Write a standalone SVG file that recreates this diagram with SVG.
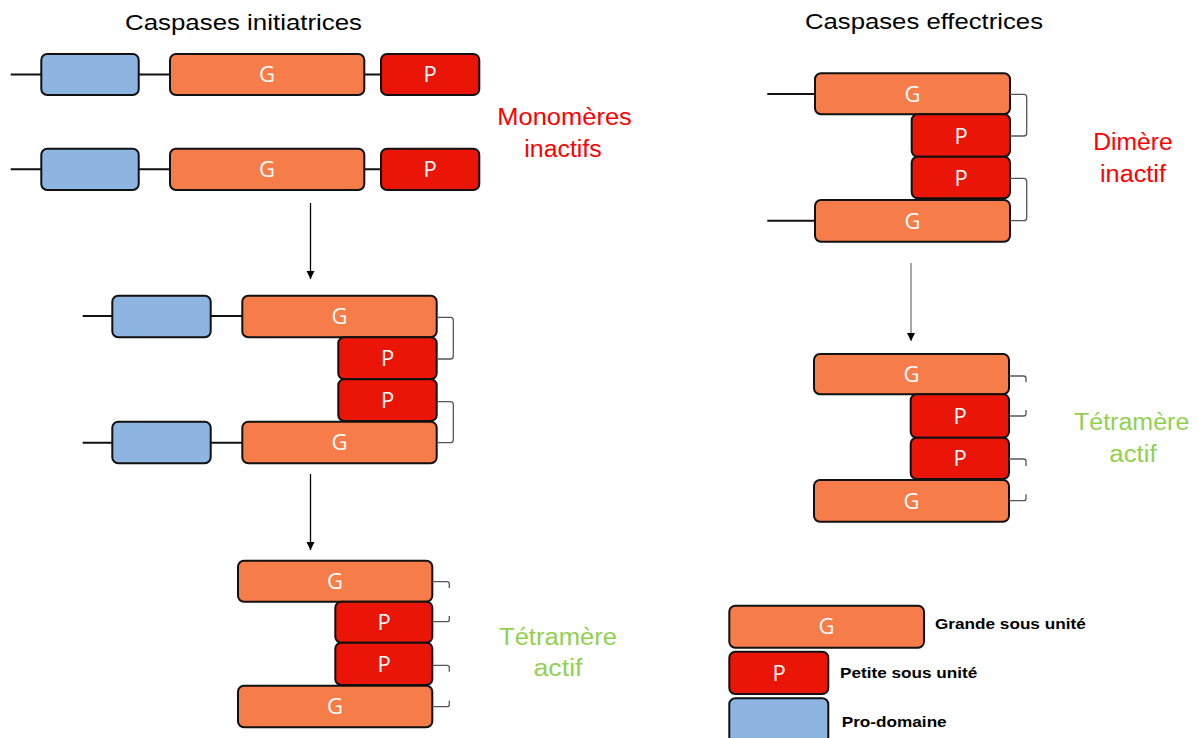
<svg xmlns="http://www.w3.org/2000/svg" width="1199" height="738" viewBox="0 0 1199 738">
<defs>
<marker id="arr" viewBox="0 0 10 10" refX="10" refY="5" markerWidth="8" markerHeight="9" markerUnits="userSpaceOnUse" orient="auto">
<path d="M0,0 L10,5 L0,10 z" fill="#000"/>
</marker>
<style>
.g{fill:#F67C4A;stroke:#111;stroke-width:2}
.p{fill:#EA1506;stroke:#111;stroke-width:2}
.b{fill:#8EB4E2;stroke:#111;stroke-width:2}
.ln{stroke:#111;stroke-width:2;fill:none}
.br{stroke:#555;stroke-width:1.3;fill:none}
.lbl{font-family:"Open Sans","Liberation Sans",sans-serif;font-size:22px;fill:#fff;text-anchor:middle}
.ttl{font-family:"Liberation Sans",Arial,sans-serif;font-size:22px;fill:#000}
.red{font-family:"Liberation Sans",Arial,sans-serif;font-size:23px;fill:#FF0000}
.grn{font-family:"Liberation Sans",Arial,sans-serif;font-size:23px;fill:#92D050}
.leg{font-family:"Liberation Sans",Arial,sans-serif;font-size:15px;font-weight:bold;fill:#000}
.arrow{stroke:#000;stroke-width:1.3;fill:none}
</style>
</defs>
<rect width="1199" height="738" fill="#fff"/>

<g id="titles">
<text class="ttl" x="125" y="30" textLength="237" lengthAdjust="spacingAndGlyphs">Caspases initiatrices</text>
<text class="ttl" x="805" y="29" textLength="238" lengthAdjust="spacingAndGlyphs">Caspases effectrices</text>
</g>

<g id="monomer1">
<path class="ln" d="M10.7,74.5 H41.3 M138.7,74.5 H170 M364.3,74.5 H381"/>
<rect class="b" x="41.3" y="54" width="97.4" height="41" rx="6"/>
<rect class="g" x="170" y="54" width="194.3" height="41" rx="6"/>
<rect class="p" x="381" y="54" width="98.3" height="41" rx="6"/>
<text class="lbl" x="267" y="82">G</text>
<text class="lbl" x="430" y="82">P</text>
</g>

<g id="monomer2">
<path class="ln" d="M10.7,169.3 H41.3 M138.7,169.3 H170 M364.3,169.3 H381"/>
<rect class="b" x="41.3" y="148.7" width="97.4" height="41.3" rx="6"/>
<rect class="g" x="170" y="148.7" width="194.3" height="41.3" rx="6"/>
<rect class="p" x="381" y="148.7" width="98.3" height="41.3" rx="6"/>
<text class="lbl" x="267" y="177">G</text>
<text class="lbl" x="430" y="177">P</text>
</g>

<g id="label-monomeres">
<text class="red" x="497.3" y="125" textLength="134.5" lengthAdjust="spacingAndGlyphs">Monomères</text>
<text class="red" x="524.3" y="157" textLength="77.4" lengthAdjust="spacingAndGlyphs">inactifs</text>
</g>

<g id="dimer-initiator">
<path class="ln" d="M82.7,316 H112.3 M210.7,316 H242.3 M82.7,442.7 H112.3 M210.7,442.7 H242.3"/>
<rect class="b" x="112.3" y="295.7" width="98.4" height="41.6" rx="6"/>
<rect class="g" x="242.3" y="295.7" width="194.4" height="41.6" rx="6"/>
<rect class="p" x="338.3" y="337.3" width="98.4" height="42" rx="6"/>
<rect class="p" x="338.3" y="379.3" width="98.4" height="41.7" rx="6"/>
<rect class="b" x="112.3" y="421.7" width="98.4" height="41.6" rx="6"/>
<rect class="g" x="242.3" y="421.7" width="194.4" height="41.6" rx="6"/>
<text class="lbl" x="339.5" y="324">G</text>
<text class="lbl" x="387.5" y="366">P</text>
<text class="lbl" x="387.5" y="408">P</text>
<text class="lbl" x="339.5" y="450">G</text>
<path class="br" d="M436.7,317.3 H450.5 Q453.3,317.3 453.3,320.3 V356 Q453.3,359 450.5,359 H436.7"/>
<path class="br" d="M436.7,401.7 H450.5 Q453.3,401.7 453.3,404.7 V439.7 Q453.3,442.7 450.5,442.7 H436.7"/>
</g>

<g id="tetramer-initiator">
<rect class="g" x="238" y="560.7" width="194.3" height="41" rx="6"/>
<rect class="p" x="335.3" y="601.7" width="97" height="41" rx="6"/>
<rect class="p" x="335.3" y="642.7" width="97" height="42.3" rx="6"/>
<rect class="g" x="238" y="685.7" width="194.3" height="41.6" rx="6"/>
<text class="lbl" x="335" y="589">G</text>
<text class="lbl" x="384" y="630">P</text>
<text class="lbl" x="384" y="671.5">P</text>
<text class="lbl" x="335" y="714">G</text>
<path class="br" d="M432.3,581.7 H447 Q449.3,581.7 449.3,584 V588"/>
<path class="br" d="M432.3,621.7 H447 Q449.3,621.7 449.3,619.4 V616"/>
<path class="br" d="M432.3,665.3 H447 Q449.3,665.3 449.3,667.6 V671.7"/>
<path class="br" d="M432.3,706.7 H447 Q449.3,706.7 449.3,704.4 V700.7"/>
</g>

<g id="label-tetramere-left">
<text class="grn" x="499" y="645" textLength="118" lengthAdjust="spacingAndGlyphs">Tétramère</text>
<text class="grn" x="533.5" y="676" textLength="49" lengthAdjust="spacingAndGlyphs">actif</text>
</g>

<g id="dimer-effector">
<path class="ln" d="M767.3,94 H815 M767.3,220.7 H815"/>
<rect class="g" x="815" y="73.3" width="195" height="41" rx="6"/>
<rect class="p" x="911.7" y="114.3" width="98.3" height="42.4" rx="6"/>
<rect class="p" x="911.7" y="156.7" width="98.3" height="41.6" rx="6"/>
<rect class="g" x="815" y="200" width="195" height="41.7" rx="6"/>
<text class="lbl" x="912.5" y="101.5">G</text>
<text class="lbl" x="961" y="143.5">P</text>
<text class="lbl" x="961" y="185.5">P</text>
<text class="lbl" x="912.5" y="228.5">G</text>
<path class="br" d="M1010,94.3 H1023.9 Q1026.7,94.3 1026.7,97.3 V133 Q1026.7,136 1023.9,136 H1010"/>
<path class="br" d="M1010,178.3 H1023.9 Q1026.7,178.3 1026.7,181.3 V217.7 Q1026.7,220.7 1023.9,220.7 H1010"/>
</g>

<g id="label-dimere">
<text class="red" x="1093.3" y="149.5" textLength="79.4" lengthAdjust="spacingAndGlyphs">Dimère</text>
<text class="red" x="1100" y="181.5" textLength="66" lengthAdjust="spacingAndGlyphs">inactif</text>
</g>

<g id="tetramer-effector">
<rect class="g" x="814" y="354" width="195" height="40.3" rx="6"/>
<rect class="p" x="910.7" y="394.3" width="98.3" height="43.4" rx="6"/>
<rect class="p" x="910.7" y="437.7" width="98.3" height="41.3" rx="6"/>
<rect class="g" x="814" y="480" width="195" height="41.7" rx="6"/>
<text class="lbl" x="911.5" y="381.5">G</text>
<text class="lbl" x="960" y="423.5">P</text>
<text class="lbl" x="960" y="465.5">P</text>
<text class="lbl" x="911.5" y="508.5">G</text>
<path class="br" d="M1009,376 H1023.7 Q1026,376 1026,378.3 V382.3"/>
<path class="br" d="M1009,416 H1023.7 Q1026,416 1026,413.7 V410"/>
<path class="br" d="M1009,459 H1023.7 Q1026,459 1026,461.3 V466"/>
<path class="br" d="M1009,500.7 H1023.7 Q1026,500.7 1026,498.4 V494.3"/>
</g>

<g id="label-tetramere-right">
<text class="grn" x="1074" y="429.5" textLength="115.3" lengthAdjust="spacingAndGlyphs">Tétramère</text>
<text class="grn" x="1109.3" y="462" textLength="47.4" lengthAdjust="spacingAndGlyphs">actif</text>
</g>

<g id="connectors">
<line class="arrow" x1="310.5" y1="203" x2="310.5" y2="279" marker-end="url(#arr)"/>
<line class="arrow" x1="310.5" y1="474" x2="310.5" y2="550" marker-end="url(#arr)"/>
<line class="arrow" x1="911" y1="263" x2="911" y2="341" style="stroke:#777" marker-end="url(#arr)"/>
</g>

<g id="legend">
<rect class="g" x="729.3" y="605.7" width="194.7" height="42" rx="6"/>
<rect class="p" x="729.3" y="651.7" width="99" height="42.3" rx="6"/>
<rect class="b" x="729.3" y="698.3" width="99" height="46" rx="6"/>
<text class="lbl" x="826.5" y="634">G</text>
<text class="lbl" x="779" y="680.5">P</text>
<text class="leg" x="935" y="628.5" textLength="150.7" lengthAdjust="spacingAndGlyphs">Grande sous unité</text>
<text class="leg" x="840" y="678.3" textLength="137.3" lengthAdjust="spacingAndGlyphs">Petite sous unité</text>
<text class="leg" x="841.7" y="727" textLength="105" lengthAdjust="spacingAndGlyphs">Pro-domaine</text>
</g>
</svg>
